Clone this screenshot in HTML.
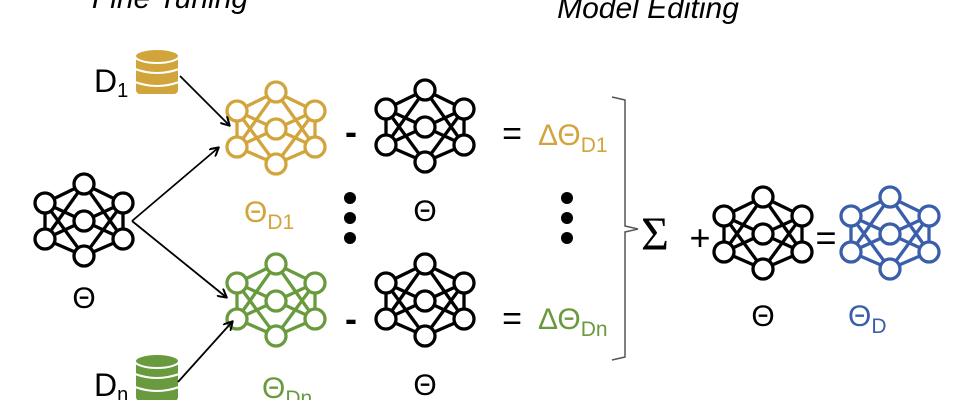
<!DOCTYPE html>
<html><head><meta charset="utf-8"><style>
body{margin:0;background:#fff;width:978px;height:400px;overflow:hidden}
svg text{font-family:"Liberation Sans","DejaVu Sans",sans-serif}
</style></head><body>
<svg width="978" height="400" viewBox="0 0 978 400" xmlns="http://www.w3.org/2000/svg">
<defs>
<g id="net" fill="#fff" stroke-width="3.3">
<g fill="none">
<line x1="0" y1="-36" x2="-39" y2="-17"/><line x1="0" y1="-36" x2="39" y2="-17"/>
<line x1="0" y1="-36" x2="-39" y2="19"/><line x1="0" y1="-36" x2="39" y2="19"/>
<line x1="0" y1="36" x2="-39" y2="19"/><line x1="0" y1="36" x2="39" y2="19"/>
<line x1="0" y1="36" x2="-39" y2="-17"/><line x1="0" y1="36" x2="39" y2="-17"/>
<line x1="-39" y1="-17" x2="-39" y2="19"/><line x1="39" y1="-17" x2="39" y2="19"/>
<line x1="-39" y1="-17" x2="39" y2="19"/><line x1="39" y1="-17" x2="-39" y2="19"/>
</g>
<circle cx="0" cy="-36" r="10"/><circle cx="-39" cy="-17" r="10"/><circle cx="39" cy="-17" r="10"/>
<circle cx="0" cy="1" r="10"/><circle cx="-39" cy="19" r="10"/><circle cx="39" cy="19" r="10"/>
<circle cx="0" cy="36" r="10"/>
</g>
<marker id="ar" markerWidth="10" markerHeight="10" refX="8" refY="5" orient="auto" markerUnits="userSpaceOnUse"><path d="M0,0 L9,5 L0,10" fill="none" stroke="#000" stroke-width="2"/></marker>
</defs>
<text x="170" y="8" font-size="30" font-style="italic" text-anchor="middle">Fine Tuning</text>
<text x="648" y="18" font-size="30" font-style="italic" text-anchor="middle">Model Editing</text>

<g stroke="#000"><use href="#net" x="84" y="220"/></g>
<g stroke="#d2a53c"><use href="#net" x="276" y="128"/></g>
<g stroke="#6a9a3e"><use href="#net" x="276" y="300"/></g>
<g stroke="#000"><use href="#net" x="425" y="126"/></g>
<g stroke="#000"><use href="#net" x="425" y="300"/></g>
<g stroke="#000"><use href="#net" x="763" y="233"/></g>
<g stroke="#3a5eaa"><use href="#net" x="890" y="233"/></g>

<g fill="#d2a53c" stroke="#fff" stroke-width="2">
<rect x="135" y="55" width="44" height="40" rx="5"/>
<ellipse cx="157" cy="56" rx="22" ry="7"/>
<path d="M135,69 q22,8 44,0 M135,82 q22,8 44,0" fill="none"/>
</g>
<g fill="#6a9a3e" stroke="#fff" stroke-width="2">
<rect x="135" y="360" width="44" height="42" rx="5"/>
<ellipse cx="157" cy="361" rx="22" ry="7"/>
<path d="M135,374 q22,8 44,0 M135,387 q22,8 44,0" fill="none"/>
</g>
<text x="94" y="92" font-size="32">D<tspan font-size="20" dy="5">1</tspan></text>
<text x="94" y="396" font-size="32">D<tspan font-size="20" dy="5">n</tspan></text>

<g stroke="#000" stroke-width="1.8" marker-end="url(#ar)">
<line x1="180" y1="76" x2="229" y2="125"/>
<line x1="132" y1="221" x2="218" y2="148"/>
<line x1="132" y1="221" x2="226" y2="297"/>
<line x1="178" y1="382" x2="232" y2="322"/>
</g>

<text x="84" y="308" font-size="30" text-anchor="middle">Θ</text>
<text x="244" y="222" font-size="30" fill="#d2a53c">Θ<tspan font-size="21" dy="7">D1</tspan></text>
<text x="262" y="398" font-size="30" fill="#6a9a3e">Θ<tspan font-size="21" dy="7">Dn</tspan></text>
<text x="425" y="221" font-size="30" text-anchor="middle">Θ</text>
<text x="425" y="395" font-size="30" text-anchor="middle">Θ</text>
<text x="351" y="144" font-size="36" font-weight="bold" text-anchor="middle">-</text>
<text x="351" y="331" font-size="36" font-weight="bold" text-anchor="middle">-</text>
<text x="512" y="145" font-size="34" text-anchor="middle">=</text>
<text x="512" y="330" font-size="34" text-anchor="middle">=</text>
<text x="538" y="145" font-size="30" fill="#d2a53c">ΔΘ<tspan font-size="21" dy="7">D1</tspan></text>
<text x="538" y="329" font-size="30" fill="#6a9a3e">ΔΘ<tspan font-size="21" dy="7">Dn</tspan></text>
<g fill="#000">
<circle cx="350" cy="198" r="6"/><circle cx="350" cy="218" r="6"/><circle cx="350" cy="238" r="6"/>
<circle cx="567" cy="198" r="6"/><circle cx="567" cy="218" r="6"/><circle cx="567" cy="238" r="6"/>
</g>
<path d="M612,97 L625,100 L625,226 L638,229 L625,232 L625,357 L612,360" fill="none" stroke="#555" stroke-width="1.5"/>
<text x="655" y="250" font-size="48" text-anchor="middle" style="font-family:'Liberation Serif',serif">Σ</text>
<text x="700" y="250" font-size="36" text-anchor="middle">+</text>
<text x="826" y="250" font-size="36" text-anchor="middle">=</text>
<text x="763" y="326" font-size="30" text-anchor="middle">Θ</text>
<text x="848" y="326" font-size="30" fill="#3a5eaa">Θ<tspan font-size="21" dy="7">D</tspan></text>
</svg>
</body></html>
